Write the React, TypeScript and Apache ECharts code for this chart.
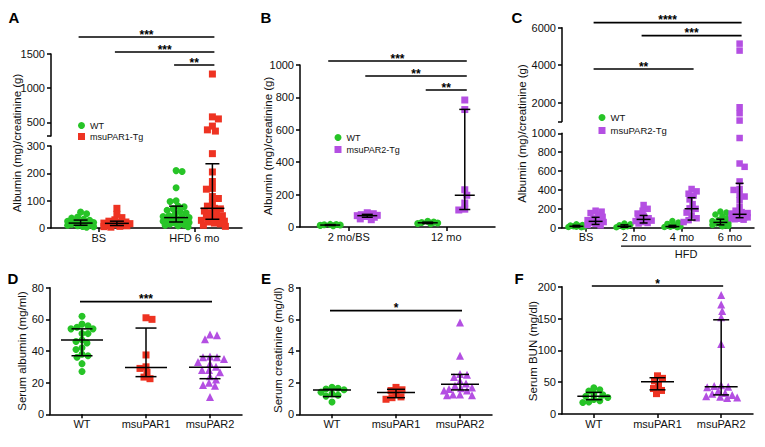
import React, { useEffect, useRef } from 'react';
import * as echarts from 'echarts';

const FONT = "'Liberation Sans', Arial, Helvetica, sans-serif";
const GREEN = '#27c427';
const RED = '#ee3322';
const PURPLE = '#b44fe2';
const INK = '#000000';

// ================= DATA =================
// Panel A — urine albumin/creatinine, WT vs msuPAR1-Tg
const aCategories = ['BS', 'HFD 6 mo'];
const aYLowerTicks = [0, 100, 200, 300];
const aYUpperTicks = [500, 1000, 1500];
const aWtBS = [58, 52, 40, 36, 32, 28, 25, 22, 20, 18, 16, 14, 12, 10, 8, 6, 5, 3];
const aTgBS = [72, 50, 38, 30, 25, 22, 20, 18, 16, 15, 13, 12, 10, 8, 6, 5, 3];
const aWtHFD = [210, 207, 147, 100, 97, 80, 78, 70, 65, 60, 55, 50, 45, 42, 40, 38, 35, 32, 30, 28, 25, 22, 20, 18, 15, 12, 10, 8, 5];
const aTgHFD = [1207, 580, 550, 445, 390, 372, 272, 205, 170, 145, 142, 115, 108, 92, 80, 72, 70, 62, 55, 50, 45, 40, 35, 30, 28, 25, 22, 18, 15, 10, 6];
const aWtMedian = [18, 38];
const aWtQ1 = [10, 22];
const aWtQ3 = [29, 80];
const aTgMedian = [17, 72];
const aTgQ1 = [9, 32];
const aTgQ3 = [25, 235];
const aSigPairs = [[0, 3], [1, 3], [2, 3]];
const aSigStars = ['***', '***', '**'];

// Panel B — WT vs msuPAR2-Tg
const bCategories = ['2 mo/BS', '12 mo'];
const bYTicks = [0, 200, 400, 600, 800, 1000];
const bWt2 = [8, 10, 12, 14, 15, 16];
const bTg2 = [88, 82, 76, 72, 70, 68, 65, 60, 50, 45];
const bWt12 = [35, 30, 28, 25, 22, 20];
const bTg12 = [784, 725, 230, 196, 148, 110, 105];
const bWtMedian = [12, 26];
const bWtQ1 = [9, 21];
const bWtQ3 = [15, 30];
const bTgMedian = [70, 196];
const bTgQ1 = [60, 108];
const bTgQ3 = [78, 726];
const bSigPairs = [[0, 3], [1, 3], [2, 3]];
const bSigStars = ['***', '**', '**'];

// Panel C — WT vs msuPAR2-Tg on HFD
const cCategories = ['BS', '2 mo', '4 mo', '6 mo'];
const cYLowerTicks = [0, 200, 400, 600, 800, 1000];
const cYUpperTicks = [2000, 4000, 6000];
const cWtBS = [35, 28, 22, 18, 15, 12, 10, 8, 5];
const cTgBS = [180, 170, 155, 135, 115, 95, 80, 67, 60, 50, 40, 30, 25];
const cWt2 = [45, 35, 25, 15, 8, 5];
const cTg2 = [240, 200, 180, 150, 125, 100, 90, 80, 75, 70, 60, 50, 45];
const cWt4 = [70, 55, 40, 25, 15, 10, 8, 5];
const cTg4 = [410, 385, 360, 340, 300, 250, 205, 200, 160, 130, 100, 80, 60];
const cWt6 = [170, 160, 140, 120, 100, 80, 70, 60, 50, 45, 40, 30, 25, 20, 15];
const cTg6 = [5150, 4780, 1760, 1440, 1050, 950, 680, 645, 490, 410, 400, 350, 330, 290, 220, 180, 165, 155, 150, 145, 142, 140, 138, 135, 130, 125, 120, 115, 112, 110, 105, 100, 95, 90, 85];
const cWtMedian = [15, 15, 12, 56];
const cWtQ1 = [8, 5, 6, 30];
const cWtQ3 = [25, 30, 25, 90];
const cTgMedian = [67, 88, 201, 142];
const cTgQ1 = [35, 50, 81, 106];
const cTgQ3 = [110, 130, 318, 470];
const cSigPairs = [[1, 7], [3, 7], [1, 5]];
const cSigStars = ['****', '***', '**'];
const cBracketText = 'HFD';

// Panels D–F — serum markers
const serumCategories = ['WT', 'msuPAR1', 'msuPAR2'];
const dYTicks = [0, 20, 40, 60, 80];
const dWt = [62, 57, 56, 55, 54, 54, 51, 51, 47, 46, 45, 42, 41, 38, 37, 36, 32, 27];
const dP1 = [61, 60, 37.5, 30, 29, 26.5, 23.5, 22.5];
const dP2 = [50.5, 50, 47.5, 36.5, 36, 36, 35, 33, 32, 30, 28, 28, 26.5, 24, 22, 20, 18.5, 18, 11];
const dMedian = [47, 29.5, 29.7];
const dQ1 = [37, 23.8, 22.5];
const dQ3 = [54, 54.5, 36.5];

const eYTicks = [0, 2, 4, 6, 8];
const eWt = [1.7, 1.65, 1.6, 1.55, 1.4, 1.3, 1.2, 1.15, 0.78];
const eP1 = [1.7, 1.55, 1.5, 1.3, 1.1, 1.05, 0.95];
const eP2 = [5.8, 3.7, 2.55, 2.5, 2.35, 2.1, 1.95, 1.8, 1.7, 1.65, 1.6, 1.5, 1.5, 1.25, 1.25, 1.2, 1.2];
const eMedian = [1.54, 1.38, 1.9];
const eQ1 = [1.12, 1.05, 1.54];
const eQ3 = [1.58, 1.58, 2.52];

const fYTicks = [0, 50, 100, 150, 200];
const fWt = [41, 38, 36, 32, 30, 28, 26, 23, 21, 19, 18];
const fP1 = [60, 56, 52, 45, 40, 37, 32];
const fP2 = [187, 172, 162, 152, 110, 45, 44, 43, 42, 36, 33, 32, 30, 28, 27, 26, 25];
const fMedian = [28, 50.5, 43];
const fQ1 = [22.5, 38, 30];
const fQ3 = [34, 57, 148];

const serumSigPairs = [[0, 2]];
const dSigStars = ['***'];
const eSigStars = ['*'];
const fSigStars = ['*'];

const titleAlbCr = 'Albumin (mg)/creatinine (g)';

// ================= LAYOUT =================
type Box = { left: number; top: number; width: number; height: number };
type YCfg = { min: number; max: number; ticks: number[]; breakTick?: boolean };
type Group = { values: number[]; cat: number; shift: number; name: string; symbol: string; color: string; size: number; med: number; q1: number; q3: number };
type Panel = {
  cats: string[];
  lower: Box; lowerY: YCfg;
  upper?: Box; upperY?: YCfg;
  groups: Group[];
  hw: number; cap: number; spread: number;
  sigPairs: number[][]; sigStars: string[]; sigDy: number[];
  bracket?: { x1: number; x2: number; dy: number; text: string };
  legend?: { left: number; top: number; gap: number; size: number; items: { name: string; icon: string }[] };
};

const wt = (values: number[], cat: number, shift: number, med: number[], q1: number[], q3: number[], size = 7): Group =>
  ({ values, cat, shift, name: 'WT', symbol: 'circle', color: GREEN, size, med: med[cat], q1: q1[cat], q3: q3[cat] });
const tg = (name: string, color: string, symbol: string, values: number[], cat: number, shift: number, med: number[], q1: number[], q3: number[], size = 7): Group =>
  ({ values, cat, shift, name, symbol, color, size, med: med[cat], q1: q1[cat], q3: q3[cat] });
const serum = (values: number[], cat: number, med: number[], q1: number[], q3: number[]): Group => {
  const sym = ['circle', 'rect', 'triangle'][cat];
  const col = [GREEN, RED, PURPLE][cat];
  return { values, cat, shift: 0, name: serumCategories[cat], symbol: sym, color: col, size: cat === 2 ? 8 : 7, med: med[cat], q1: q1[cat], q3: q3[cat] };
};

const panels: Panel[] = [
  {
    cats: aCategories,
    lower: { left: 51, top: 146, width: 191, height: 82 }, lowerY: { min: 0, max: 300, ticks: aYLowerTicks },
    upper: { left: 51, top: 54, width: 191, height: 82 }, upperY: { min: 300, max: 1500, ticks: aYUpperTicks, breakTick: true },
    groups: [
      wt(aWtBS, 0, -0.19, aWtMedian, aWtQ1, aWtQ3),
      tg('msuPAR1-Tg', RED, 'rect', aTgBS, 0, 0.19, aTgMedian, aTgQ1, aTgQ3),
      wt(aWtHFD, 1, -0.19, aWtMedian, aWtQ1, aWtQ3),
      tg('msuPAR1-Tg', RED, 'rect', aTgHFD, 1, 0.19, aTgMedian, aTgQ1, aTgQ3),
    ],
    hw: 12, cap: 7, spread: 13,
    sigPairs: aSigPairs, sigStars: aSigStars, sigDy: [-17, -2, 11],
    legend: { left: 78, top: 120, gap: 0, size: 9, items: [{ name: 'WT', icon: 'circle' }, { name: 'msuPAR1-Tg', icon: 'rect' }] },
  },
  {
    cats: bCategories,
    lower: { left: 300, top: 65, width: 195, height: 162 }, lowerY: { min: 0, max: 1000, ticks: bYTicks },
    groups: [
      wt(bWt2, 0, -0.19, bWtMedian, bWtQ1, bWtQ3),
      tg('msuPAR2-Tg', PURPLE, 'rect', bTg2, 0, 0.19, bTgMedian, bTgQ1, bTgQ3),
      wt(bWt12, 1, -0.19, bWtMedian, bWtQ1, bWtQ3),
      tg('msuPAR2-Tg', PURPLE, 'rect', bTg12, 1, 0.19, bTgMedian, bTgQ1, bTgQ3),
    ],
    hw: 10, cap: 5.5, spread: 10,
    sigPairs: bSigPairs, sigStars: bSigStars, sigDy: [-4, 11, 25],
    legend: { left: 334.5, top: 132, gap: 1, size: 9, items: [{ name: 'WT', icon: 'circle' }, { name: 'msuPAR2-Tg', icon: 'rect' }] },
  },
  {
    cats: cCategories,
    lower: { left: 562, top: 133.3, width: 192, height: 94.4 }, lowerY: { min: 0, max: 1000, ticks: cYLowerTicks },
    upper: { left: 562, top: 27.7, width: 192, height: 93.8 }, upperY: { min: 1000, max: 6000, ticks: cYUpperTicks, breakTick: true },
    groups: [
      wt(cWtBS, 0, -0.2, cWtMedian, cWtQ1, cWtQ3, 6.5),
      tg('msuPAR2-Tg', PURPLE, 'rect', cTgBS, 0, 0.2, cTgMedian, cTgQ1, cTgQ3, 6.5),
      wt(cWt2, 1, -0.2, cWtMedian, cWtQ1, cWtQ3, 6.5),
      tg('msuPAR2-Tg', PURPLE, 'rect', cTg2, 1, 0.2, cTgMedian, cTgQ1, cTgQ3, 6.5),
      wt(cWt4, 2, -0.2, cWtMedian, cWtQ1, cWtQ3, 6.5),
      tg('msuPAR2-Tg', PURPLE, 'rect', cTg4, 2, 0.2, cTgMedian, cTgQ1, cTgQ3, 6.5),
      wt(cWt6, 3, -0.2, cWtMedian, cWtQ1, cWtQ3, 6.5),
      tg('msuPAR2-Tg', PURPLE, 'rect', cTg6, 3, 0.2, cTgMedian, cTgQ1, cTgQ3, 6.5),
    ],
    hw: 7, cap: 4, spread: 8,
    sigPairs: cSigPairs, sigStars: cSigStars, sigDy: [-5, 8, 41.3],
    bracket: { x1: 1.23, x2: 3.94, dy: 18.5, text: cBracketText },
    legend: { left: 598.5, top: 112, gap: 2, size: 9.5, items: [{ name: 'WT', icon: 'circle' }, { name: 'msuPAR2-Tg', icon: 'rect' }] },
  },
  {
    cats: serumCategories,
    lower: { left: 50, top: 287.7, width: 192, height: 126.6 }, lowerY: { min: 0, max: 80, ticks: dYTicks },
    groups: [serum(dWt, 0, dMedian, dQ1, dQ3), serum(dP1, 1, dMedian, dQ1, dQ3), serum(dP2, 2, dMedian, dQ1, dQ3)],
    hw: 21, cap: 10.5, spread: 16,
    sigPairs: serumSigPairs, sigStars: dSigStars, sigDy: [14],
  },
  {
    cats: serumCategories,
    lower: { left: 300, top: 287.7, width: 192, height: 126.6 }, lowerY: { min: 0, max: 8, ticks: eYTicks },
    groups: [serum(eWt, 0, eMedian, eQ1, eQ3), serum(eP1, 1, eMedian, eQ1, eQ3), serum(eP2, 2, eMedian, eQ1, eQ3)],
    hw: 19, cap: 9, spread: 16,
    sigPairs: serumSigPairs, sigStars: eSigStars, sigDy: [23],
  },
  {
    cats: serumCategories,
    lower: { left: 562, top: 286.7, width: 191, height: 127.3 }, lowerY: { min: 0, max: 200, ticks: fYTicks },
    groups: [serum(fWt, 0, fMedian, fQ1, fQ3), serum(fP1, 1, fMedian, fQ1, fQ3), serum(fP2, 2, fMedian, fQ1, fQ3)],
    hw: 16.5, cap: 8, spread: 16,
    sigPairs: serumSigPairs, sigStars: fSigStars, sigDy: [-0.7],
  },
];

const panelLetters = [
  { text: 'A', x: 14, y: 17.5 }, { text: 'B', x: 266, y: 17.5 }, { text: 'C', x: 517, y: 17.5 },
  { text: 'D', x: 13, y: 278 }, { text: 'E', x: 266, y: 278 }, { text: 'F', x: 519, y: 278 },
];
const yTitles = [
  { text: titleAlbCr, x: 16.5, y: 143 },
  { text: titleAlbCr, x: 268, y: 146 },
  { text: titleAlbCr, x: 522, y: 133.5 },
  { text: 'Serum albumin (mg/ml)', x: 22, y: 351 },
  { text: 'Serum creatinine (mg/dl)', x: 278, y: 350 },
  { text: 'Serum BUN (mg/dl)', x: 533, y: 351 },
];

// ================= BUILD =================
// Deterministic beeswarm: spreads overlapping points sideways within ±spread px.
function swarm(values: number[], toPx: (v: number) => number, diam: number, spread: number): number[] {
  const order = values.map((_, i) => i).sort((a, b) => values[b] - values[a]);
  const placed: [number, number][] = [];
  const out = new Array(values.length).fill(0);
  const step = 1;
  const cands: number[] = [0];
  for (let k = 1; k * step <= spread; k++) { cands.push(k * step, -k * step); }
  let flip = 1;
  for (const i of order) {
    const y = toPx(values[i]);
    let chosen: number | null = null;
    let best = 0, bestScore = -1;
    for (const c0 of cands) {
      const c = c0 * flip;
      let minD = Infinity;
      for (const [px, py] of placed) minD = Math.min(minD, Math.hypot(px - c, py - y));
      if (minD >= diam) { chosen = c; break; }
      if (minD > bestScore) { bestScore = minD; best = c; }
    }
    const x = chosen === null ? best : chosen;
    if (x !== 0) flip = -flip;
    placed.push([x, y]);
    out[i] = x;
  }
  return out;
}

const axisLineStyle = { color: INK, width: 1.5 };
const labelStyle = { fontSize: 11, fontFamily: FONT, color: '#111' };

function addGrid(o: any, box: Box, cats: string[], y: YCfg, showX: boolean): number {
  const gi = o.grid.length;
  const centers = cats.map((_, i) => i + 0.5);
  o.grid.push({ left: box.left, top: box.top, width: box.width, height: box.height });
  o.xAxis.push({
    type: 'value', gridIndex: gi, min: 0, max: cats.length, show: showX,
    axisLine: { show: true, onZero: false, lineStyle: axisLineStyle },
    axisTick: { show: true, length: 4, lineStyle: axisLineStyle, customValues: centers },
    axisLabel: { ...labelStyle, margin: 4, customValues: centers, formatter: (v: number) => cats[Math.floor(v)] ?? '' },
    splitLine: { show: false },
  });
  const tickVals = y.breakTick ? [y.min, ...y.ticks] : y.ticks;
  o.yAxis.push({
    type: 'value', gridIndex: gi, min: y.min, max: y.max,
    axisLine: { show: true, onZero: false, lineStyle: axisLineStyle },
    axisTick: { show: true, length: 4, lineStyle: axisLineStyle, customValues: tickVals },
    axisLabel: { ...labelStyle, margin: 6, customValues: y.ticks, formatter: (v: number) => String(v) },
    splitLine: { show: false },
  });
  return gi;
}

function buildPanel(o: any, p: Panel, pi: number) {
  const lowerIdx = addGrid(o, p.lower, p.cats, p.lowerY, true);
  const upperIdx = p.upper && p.upperY ? addGrid(o, p.upper, p.cats, p.upperY, false) : -1;
  const pxPerX = p.lower.width / p.cats.length;
  const toPx = (v: number) => {
    if (p.upper && p.upperY && v > p.lowerY.max) {
      return p.upper.top + ((p.upperY.max - v) / (p.upperY.max - p.upperY.min)) * p.upper.height;
    }
    return p.lower.top + ((p.lowerY.max - v) / (p.lowerY.max - p.lowerY.min)) * p.lower.height;
  };
  const gx = (g: Group) => g.cat + 0.5 + g.shift;

  p.groups.forEach((g) => {
    const offs = swarm(g.values, toPx, g.size * 0.8, p.spread);
    const pts = g.values.map((v, i) => [gx(g) + offs[i] / pxPerX, v]);
    const low = pts.filter((pt) => upperIdx < 0 || pt[1] <= p.lowerY.max);
    const up = upperIdx < 0 ? [] : pts.filter((pt) => pt[1] > p.lowerY.max);
    const base = { type: 'scatter', name: g.name, symbol: g.symbol, symbolSize: g.size, itemStyle: { color: g.color, opacity: 1 }, z: 2, silent: true };
    o.series.push({ ...base, xAxisIndex: lowerIdx, yAxisIndex: lowerIdx, data: low });
    if (up.length) o.series.push({ ...base, xAxisIndex: upperIdx, yAxisIndex: upperIdx, data: up });
  });

  const hw = p.hw, cap = p.cap;
  o.series.push({
    type: 'custom', name: 'err' + pi, xAxisIndex: lowerIdx, yAxisIndex: lowerIdx, z: 5, silent: true,
    data: p.groups.map((g) => [gx(g), g.med, g.q1, g.q3]),
    renderItem: (_params: any, api: any) => {
      const x = api.value(0);
      const m = api.coord([x, api.value(1)]);
      const lo = api.coord([x, api.value(2)]);
      const hi = api.coord([x, api.value(3)]);
      const st = { stroke: INK, lineWidth: 1.5 };
      return {
        type: 'group', children: [
          { type: 'line', shape: { x1: m[0] - hw, y1: m[1], x2: m[0] + hw, y2: m[1] }, style: st },
          { type: 'line', shape: { x1: lo[0], y1: lo[1], x2: hi[0], y2: hi[1] }, style: st },
          { type: 'line', shape: { x1: lo[0] - cap, y1: lo[1], x2: lo[0] + cap, y2: lo[1] }, style: st },
          { type: 'line', shape: { x1: hi[0] - cap, y1: hi[1], x2: hi[0] + cap, y2: hi[1] }, style: st },
        ],
      };
    },
  });

  const sigIdx = upperIdx >= 0 ? upperIdx : lowerIdx;
  const sigYMin = upperIdx >= 0 && p.upperY ? p.upperY.min : p.lowerY.min;
  o.series.push({
    type: 'custom', name: 'sig' + pi, xAxisIndex: sigIdx, yAxisIndex: sigIdx, z: 6, silent: true,
    data: p.sigPairs.map(([a, b], k) => [gx(p.groups[a]), gx(p.groups[b]), p.sigDy[k]]),
    renderItem: (params: any, api: any) => {
      const cs = params.coordSys;
      const p1 = api.coord([api.value(0), sigYMin]);
      const p2 = api.coord([api.value(1), sigYMin]);
      const y = cs.y + api.value(2);
      return {
        type: 'group', children: [
          { type: 'line', shape: { x1: p1[0] - 2, y1: y, x2: p2[0] + 2, y2: y }, style: { stroke: INK, lineWidth: 1.7 } },
          { type: 'text', x: (p1[0] + p2[0]) / 2, y: y - 2.5, style: { text: p.sigStars[params.dataIndex], align: 'center', verticalAlign: 'middle', font: `bold 12px ${FONT}`, fill: INK } },
        ],
      };
    },
  });

  if (p.bracket) {
    const br = p.bracket;
    o.series.push({
      type: 'custom', name: 'bracket' + pi, xAxisIndex: lowerIdx, yAxisIndex: lowerIdx, z: 6, silent: true,
      data: [[br.x1, br.x2, br.dy]],
      renderItem: (params: any, api: any) => {
        const cs = params.coordSys;
        const p1 = api.coord([api.value(0), p.lowerY.min]);
        const p2 = api.coord([api.value(1), p.lowerY.min]);
        const y = cs.y + cs.height + api.value(2);
        return {
          type: 'group', children: [
            { type: 'line', shape: { x1: p1[0], y1: y, x2: p2[0], y2: y }, style: { stroke: INK, lineWidth: 1.3 } },
            { type: 'text', x: (p1[0] + p2[0]) / 2, y: y + 7.5, style: { text: br.text, align: 'center', verticalAlign: 'middle', font: `11px ${FONT}`, fill: '#111' } },
          ],
        };
      },
    });
  }

  if (p.legend) {
    const L = p.legend;
    o.legend.push({
      orient: 'vertical', left: L.left, top: L.top, itemWidth: 7, itemHeight: 7, itemGap: L.gap,
      selectedMode: false, padding: 0,
      textStyle: { fontSize: L.size, fontFamily: FONT, color: '#111', lineHeight: 11 },
      data: L.items,
    });
  }
}

function buildOption() {
  const o: any = { grid: [], xAxis: [], yAxis: [], series: [], legend: [], graphic: [] };
  panels.forEach((p, i) => buildPanel(o, p, i));
  panelLetters.forEach((l) => o.graphic.push({
    type: 'text', x: l.x, y: l.y, silent: true,
    style: { text: l.text, font: `bold 15px ${FONT}`, fill: INK, align: 'center', verticalAlign: 'middle' },
  }));
  yTitles.forEach((t) => o.graphic.push({
    type: 'text', x: t.x, y: t.y, rotation: Math.PI / 2, silent: true,
    style: { text: t.text, font: `11.5px ${FONT}`, fill: '#111', align: 'center', verticalAlign: 'middle' },
  }));
  return { animation: false, backgroundColor: '#ffffff', textStyle: { fontFamily: FONT }, ...o };
}

export default function App() {
  const ref = useRef<HTMLDivElement>(null);
  useEffect(() => {
    if (!ref.current) return;
    const chart = echarts.init(ref.current, undefined, { renderer: 'svg' });
    chart.setOption(buildOption());
    return () => chart.dispose();
  }, []);
  return <div ref={ref} style={{ position: 'fixed', left: 0, top: 0, width: 765, height: 447 }} />;
}
